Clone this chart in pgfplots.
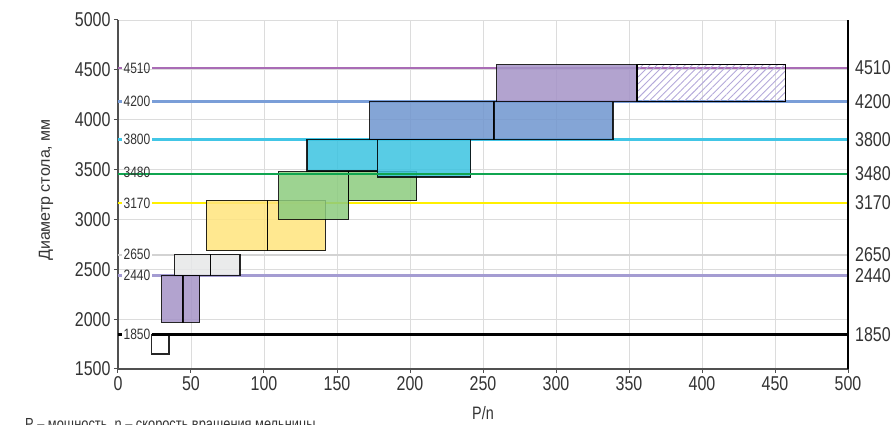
\documentclass[border=0pt]{standalone}
\usepackage{fontspec}
\setmainfont{Liberation Sans}
\newfontfamily\nf{Liberation Sans}[FakeStretch=0.8]
\usepackage{pgfplots}
\pgfplotsset{compat=1.18}
\usetikzlibrary{patterns.meta}
\definecolor{gridgray}{HTML}{DCDCDC}
\definecolor{axgray}{HTML}{505050}
\definecolor{txt}{HTML}{333333}
\definecolor{lpurple}{HTML}{A96CB5}
\definecolor{lblue}{HTML}{7A9ED8}
\definecolor{lcyan}{HTML}{42C6E6}
\definecolor{lgreen}{HTML}{10A550}
\definecolor{lyellow}{HTML}{FFF000}
\definecolor{lgray}{HTML}{D3D3D3}
\definecolor{llav}{HTML}{A49CD2}
\definecolor{fpurple}{HTML}{A493C7}
\definecolor{fblue}{HTML}{6F95CF}
\definecolor{fcyan}{HTML}{3BC3E0}
\definecolor{fgreen}{HTML}{8CCB7E}
\definecolor{fyellow}{HTML}{FFE47D}
\definecolor{fgray}{HTML}{E6E7E8}
\definecolor{hatch}{HTML}{B4A9DA}
\begin{document}
\begin{tikzpicture}
\begin{axis}[name=ax,
  scale only axis, width=730pt, height=349pt,
  xmin=0, xmax=500, ymin=1500, ymax=5000,
  xtick={0,50,...,500}, ytick={1500,2000,...,5000},
  axis x line*=bottom, axis y line*=left,
  axis line style={draw=axgray, line width=1.3pt, -},
  grid=major, grid style={draw=gridgray, line width=0.9pt},
  tick align=outside, major tick length=4pt,
  tick style={draw=axgray, line width=1pt},
  /pgf/number format/assume math mode=true,
  /pgf/number format/1000 sep={},
  ticklabel style={font=\fontsize{20}{24}\nf, text=txt},
  xlabel={P/n},
  xlabel style={at={(axis description cs:0.5,-0.126)}, anchor=center, font=\fontsize{18}{22}\nf, text=txt},
  ylabel={Диаметр стола, мм},
  ylabel style={at={(axis description cs:-0.0986,0.513)}, anchor=center, rotate=0, font=\fontsize{16}{20}\selectfont, text=txt},
  clip=false,
]
% horizontal level lines
\addplot[lpurple, line width=2.6pt] coordinates {(23.3,4520) (500,4520)};
\addplot[lpurple, line width=2.6pt] coordinates {(0,4520) (2.5,4520)};
\addplot[lblue, line width=2.6pt] coordinates {(23.3,4180) (500,4180)};
\addplot[lblue, line width=2.6pt] coordinates {(0,4180) (2.5,4180)};
\addplot[lcyan, line width=2.6pt] coordinates {(23.3,3800) (500,3800)};
\addplot[lcyan, line width=2.6pt] coordinates {(0,3800) (2.5,3800)};
\addplot[lyellow, line width=2.6pt] coordinates {(23.3,3165) (500,3165)};
\addplot[lyellow, line width=2.6pt] coordinates {(0,3165) (2.5,3165)};
\addplot[lgray, line width=2.6pt] coordinates {(23.3,2645) (500,2645)};
\addplot[lgray, line width=2.6pt] coordinates {(0,2645) (2.5,2645)};
\addplot[llav, line width=2.6pt] coordinates {(23.3,2440) (500,2440)};
\addplot[llav, line width=2.6pt] coordinates {(0,2440) (2.5,2440)};
% rectangles
\tikzset{rct/.style={draw=black, line width=1.2pt, draw opacity=0.85, fill opacity=0.85}}
\addplot[rct, fill=white] coordinates {(23,1650) (35,1650) (35,1845) (23,1845)} -- cycle;
\addplot[rct, fill=fpurple] coordinates {(30,1970) (44.5,1970) (44.5,2440) (30,2440)} -- cycle;
\addplot[rct, fill=fpurple] coordinates {(44.5,1970) (56,1970) (56,2440) (44.5,2440)} -- cycle;
\addplot[rct, fill=fgray] coordinates {(38.5,2440) (63.5,2440) (63.5,2645) (38.5,2645)} -- cycle;
\addplot[rct, fill=fgray] coordinates {(63.5,2440) (83.5,2440) (83.5,2645) (63.5,2645)} -- cycle;
\addplot[rct, fill=fyellow] coordinates {(60.5,2685) (102.5,2685) (102.5,3190) (60.5,3190)} -- cycle;
\addplot[rct, fill=fyellow] coordinates {(102.5,2685) (142,2685) (142,3190) (102.5,3190)} -- cycle;
\addplot[rct, fill=fgreen] coordinates {(110,3000) (158,3000) (158,3480) (110,3480)} -- cycle;
\addplot[rct, fill=fgreen] coordinates {(158,3190) (204.5,3190) (204.5,3480) (158,3480)} -- cycle;
\addplot[rct, fill=fcyan] coordinates {(129.5,3485) (177.5,3485) (177.5,3805) (129.5,3805)} -- cycle;
\addplot[rct, fill=fcyan] coordinates {(177.5,3425) (241.5,3425) (241.5,3805) (177.5,3805)} -- cycle;
\addplot[rct, fill=fblue] coordinates {(172.5,3805) (257.5,3805) (257.5,4180) (172.5,4180)} -- cycle;
\addplot[rct, fill=fblue] coordinates {(257.5,3805) (339,3805) (339,4180) (257.5,4180)} -- cycle;
\addplot[rct, fill=fpurple] coordinates {(259.5,4180) (355.5,4180) (355.5,4550) (259.5,4550)} -- cycle;
\addplot[draw=black, line width=1.2pt, pattern={Lines[angle=45, distance=5pt, line width=0.9pt]}, pattern color=hatch] coordinates {(355.5,4180) (457,4180) (457,4550) (355.5,4550)} -- cycle;
% green line drawn over the rectangles
\addplot[lgreen, line width=2.8pt] coordinates {(0,3455) (500,3455)};
% black line on top
\addplot[black, line width=3pt] coordinates {(23,1845) (500,1845)};
\addplot[black, line width=3pt] coordinates {(0,1845) (2.5,1845)};
% inner labels
\tikzset{ilab/.style={font=\fontsize{15}{16}\nf, text=txt, inner sep=0pt, anchor=center}}
\node[ilab] at (axis cs:13,4520) {4510};
\node[ilab] at (axis cs:13,4180) {4200};
\node[ilab] at (axis cs:13,3800) {3800};
\node[ilab] at (axis cs:13,3475) {3480};
\node[ilab] at (axis cs:13,3165) {3170};
\node[ilab] at (axis cs:13,2645) {2650};
\node[ilab] at (axis cs:13,2440) {2440};
\node[ilab] at (axis cs:13,1845) {1850};
% right-hand labels
\tikzset{rlab/.style={font=\fontsize{20}{24}\nf, text=txt, inner sep=0pt, anchor=west, xshift=7pt}}
\node[rlab] at (axis cs:500,4520) {4510};
\node[rlab] at (axis cs:500,4180) {4200};
\node[rlab] at (axis cs:500,3800) {3800};
\node[rlab] at (axis cs:500,3455) {3480};
\node[rlab] at (axis cs:500,3165) {3170};
\node[rlab] at (axis cs:500,2645) {2650};
\node[rlab] at (axis cs:500,2440) {2440};
\node[rlab] at (axis cs:500,1845) {1850};
\node[font=\fontsize{16}{20}\nf, text=txt, anchor=north west, inner sep=0pt] at (axis cs:-63.7,1010) {P – мощность, n – скорость вращения мельницы};
\end{axis}
\begin{axis}[
  scale only axis, width=730pt, height=349pt,
  xmin=0, xmax=500, ymin=1500, ymax=5000,
  axis x line=none, axis y line*=right,
  axis line style={draw=black, line width=1.3pt, -},
  ytick=\empty,
]
\addplot[draw=none] coordinates {(0,1500)};
\end{axis}
\pgfresetboundingbox
\path[use as bounding box] ([xshift=-118pt,yshift=-56pt]ax.south west) rectangle ([xshift=46pt,yshift=20pt]ax.north east);
\end{tikzpicture}
\end{document}
